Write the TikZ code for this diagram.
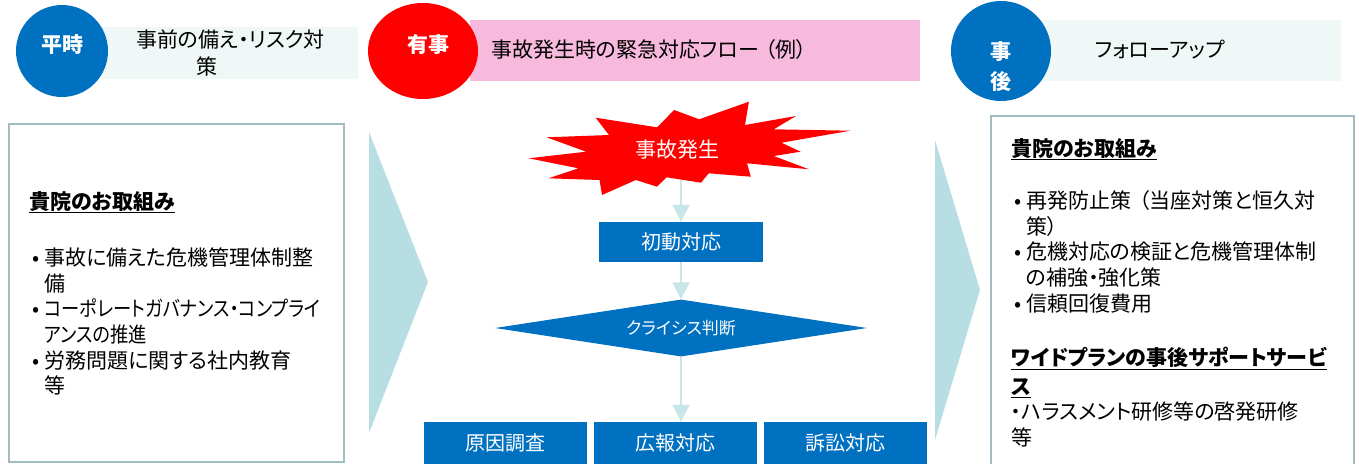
\documentclass[tikz,border=0pt]{standalone}
\usepackage{fontspec}
\setmainfont{Noto Sans CJK JP}[RawFeature=+palt]
\usetikzlibrary{shapes.geometric, arrows.meta, positioning}

\definecolor{mainblue}{HTML}{0070C0}
\definecolor{alertred}{HTML}{FF0000}
\definecolor{bandpink}{HTML}{F7B9DC}
\definecolor{bandpale}{HTML}{EFF7F7}
\definecolor{chevron}{HTML}{B7DEE2}
\definecolor{flowline}{HTML}{C8E6EA}
\definecolor{boxframe}{HTML}{A3BCC2}

\newcommand{\bul}{\makebox[15pt][l]{\hspace{3pt}•}}
\newcommand{\ind}{\hspace*{15pt}}
\newcommand{\narrow}[1]{\scalebox{0.87}[1]{#1}}

\begin{document}
\begin{tikzpicture}[
    x=1pt, y=-1pt,
    node distance=7pt, % gap between the bottom boxes
    band/.style={
      rectangle,
      inner sep=0pt,
      anchor=north west,
      minimum height=61pt
    },
    badge/.style={
      circle,
      fill=mainblue,
      text=white,
      inner sep=0pt,
      font=\fontsize{21}{30}\selectfont\bfseries
    },
    heading/.style={
      inner sep=0pt,
      align=left,
      font=\fontsize{21}{27}\selectfont
    },
    panel/.style={
      rectangle,
      draw=boxframe,
      line width=1.5pt,
      anchor=north west,
      inner sep=0pt
    },
    info/.style={
      inner sep=0pt,
      anchor=north west,
      align=left,
      font=\fontsize{21}{25.6}\selectfont
    },
    stepbox/.style={
      rectangle,
      fill=mainblue,
      text=white,
      minimum width=163pt,
      minimum height=42pt,
      inner sep=0pt,
      font=\fontsize{20}{24}\selectfont
    },
    decision/.style={
      diamond,
      aspect=6.5,
      fill=mainblue,
      text=white,
      minimum width=372pt,
      minimum height=57pt,
      inner sep=0pt,
      font=\fontsize{17}{20}\selectfont
    },
    flow/.style={
      draw=flowline,
      line width=2pt,
      -{Triangle[length=17pt, width=17pt]}
    }
  ]
  \useasboundingbox (0,0) rectangle (1359,463);

  % Header row
  \node[band, fill=bandpale, minimum width=258pt, minimum height=52pt] (peacebar) at (100,27) {};
  \node[band, fill=bandpink, minimum width=450pt] (emergbar) at (470,20) {};
  \node[band, fill=bandpale, minimum width=301pt] (afterbar) at (1040,20) {};

  \node[badge, minimum size=92pt, text depth=14pt] (peace) at (62,51) {平時};
  \node[ellipse, fill=alertred, text=white, inner sep=0pt, minimum width=110pt, minimum height=96pt,
        text depth=14pt, font=\fontsize{21}{24}\selectfont\bfseries] (emerg) at (423,51) {\hspace{10pt}有事};
  \node[badge, minimum size=100pt] (after) at (1001,51) {};
  \node[text=white, align=center, inner sep=0pt, font=\fontsize{21}{30}\selectfont\bfseries] (afterlabel) at (1001,67) {事\\後};

  \node[heading, anchor=west] (peacetitle) at (136,53) {事前の備え・リスク対\\\hspace*{60pt}策};
  \node[heading, anchor=west] (emergtitle) at (491,50) {事故発生時の緊急対応フロー\hspace{6pt}（例）};
  \node[heading, anchor=west] (aftertitle) at (1095,50) {フォローアップ};

  % Chevrons between the columns
  \fill[chevron] (369,132) -- (428,282) -- (369,433) -- cycle;
  \fill[chevron] (935,140) -- (980,290) -- (935,440) -- cycle;

  % Left column
  \node[panel, minimum width=335pt, minimum height=338pt] (beforepanel) at (8,123) {};
  \node[info] (beforeinfo) at (29,191) {
    \textbf{\underline{貴院のお取組み}}\\[31pt]
    \bul 事故に備えた危機管理体制整\\
    \ind 備\\
    \bul \narrow{コーポレートガバナンス・コンプライ}\\
    \ind \narrow{アンスの推進}\\
    \bul 労務問題に関する社内教育\\
    \ind 等
  };

  % Middle column: emergency flow
  \fill[alertred] (528.6,158.3) -- (586.1,151.7) -- (546.6,137.3) -- (609,135) -- (595.6,117.7)
    -- (657,127.3) -- (674.2,110) -- (699.1,119.3) -- (748.9,101.7) -- (745,125) -- (796,116)
    -- (773.8,129.3) -- (850.4,130.7) -- (781.5,142.7) -- (800.6,151.7) -- (773.8,156)
    -- (809,169.3) -- (747,163.3) -- (750.8,176.7) -- (708.7,173.3) -- (701,182.7)
    -- (666.5,177.3) -- (657,186.7) -- (635.9,180) -- (602,195) -- (599.5,180)
    -- (548.5,178.3) -- (578.4,168.3) -- cycle;
  \node[text=white, font=\fontsize{21}{24}\selectfont] (accident) at (677,150) {事故発生};
  \coordinate (burstfoot) at (681,180);

  \node[stepbox, minimum width=164pt, minimum height=40pt] (firstresp) at (681,242) {初動対応};
  \node[decision] (crisis) at (681,328) {クライシス判断};
  \node[stepbox] (pr) at (675.5,443) {広報対応};
  \node[stepbox, left=of pr] (cause) {原因調査};
  \node[stepbox, right=of pr] (lawsuit) {訴訟対応};

  \draw[flow] (burstfoot) -- (firstresp);
  \draw[flow] (firstresp) -- (crisis);
  \draw[flow] (crisis) -- (crisis |- pr.north);

  % Right column
  \node[panel, minimum width=363pt, minimum height=360pt] (afterpanel) at (990,115) {};
  \node[info] (afterinfo) at (1011,138) {
    \textbf{\underline{貴院のお取組み}}\\[27pt]
    \bul 再発防止策\hspace{8pt}（当座対策と恒久対\\
    \ind 策）\\
    \bul 危機対応の検証と危機管理体制\\
    \ind の補強・強化策\\
    \bul 信頼回復費用\\[29pt]
    \textbf{\underline{ワイドプランの事後サポートサービ}}\\[3pt]
    \textbf{\underline{ス}}\\
    ・ハラスメント研修等の啓発研修\\
    等
  };

\end{tikzpicture}
\end{document}
